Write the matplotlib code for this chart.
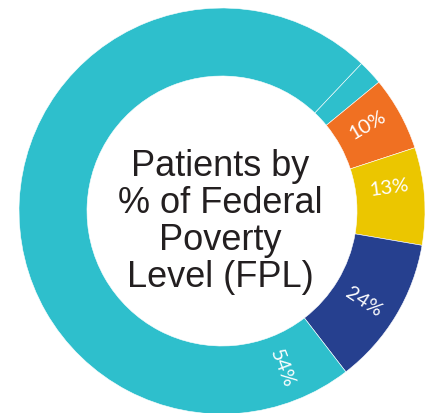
import numpy as np
import matplotlib.pyplot as plt

# slice sizes as drawn (share of the ring), clockwise from the thin line
sizes = [2.0, 5.9, 7.75, 11.85, 72.5]
colors = ['#2ebfcc', '#f07022', '#ebc600', '#26408f', '#2ebfcc']
labels = ['10%', '13%', '24%', '54%']
label_angles = [30.7, 7.9, -32.8, -69.0]
title = 'Patients by\n% of Federal\nPoverty\nLevel (FPL)'

W, H = 429, 413
fig = plt.figure(figsize=(W / 100, H / 100), dpi=100)
ax = fig.add_axes([0, 0, 1, 1])

cx, cy = 222, H - 211
R, width = 203, 68

ax.pie(sizes, colors=colors, startangle=46.6, counterclock=False,
       center=(cx, cy), radius=R, frame=True,
       wedgeprops=dict(width=width, edgecolor='white', linewidth=0.4))
ax.set_xlim(0, W)
ax.set_ylim(0, H)
ax.set_aspect('equal')
ax.axis('off')

rl = R - width / 2
for lab, a in zip(labels, label_angles):
    t = np.radians(a)
    ax.text(cx + rl * np.cos(t), cy + rl * np.sin(t), lab, color='white',
            fontsize=14.5, rotation=a, ha='center', va='center',
            rotation_mode='anchor', family='Lato')

ax.text(cx - 2, cy - 11, title, ha='center', va='center', fontsize=26,
        color='#231f20', family='Liberation Sans', linespacing=1.08)

fig.savefig('out.png', dpi=100)
